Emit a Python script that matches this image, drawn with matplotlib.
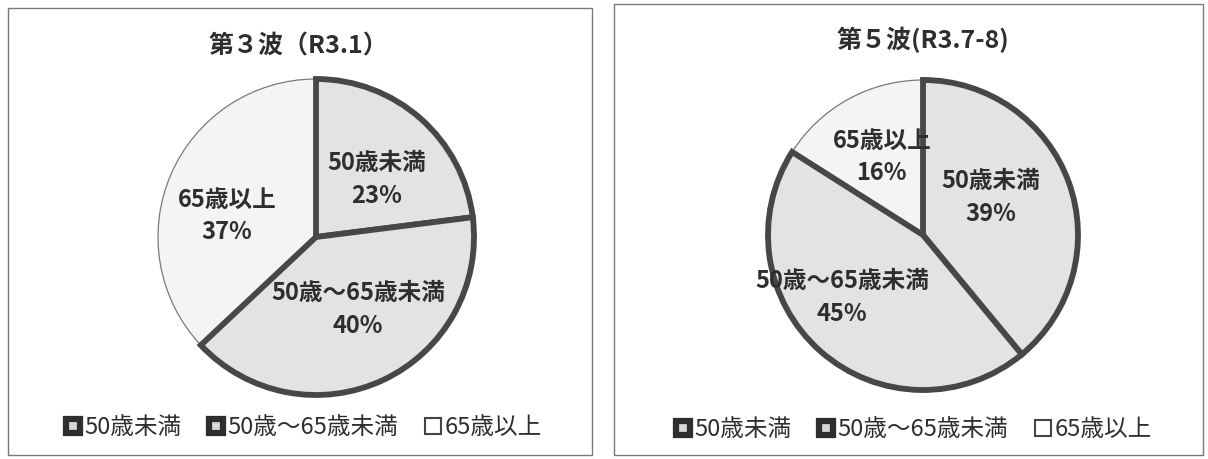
import matplotlib
matplotlib.use("Agg")
import matplotlib.pyplot as plt
import numpy as np
from matplotlib.lines import Line2D
from matplotlib.patches import Rectangle

plt.rcParams["font.family"] = ["Noto Sans CJK JP", "DejaVu Sans"]

# data
CATEGORIES = ["50歳未満", "50歳～65歳未満", "65歳以上"]
LEGEND_LABELS = ["50歳未満", "50歳～65歳未満", "65歳以上"]
WAVE3_TITLE = "第３波（R3.1）"
WAVE3_PCT = [23, 40, 37]
WAVE5_TITLE = "第５波(R3.7-8)"
WAVE5_PCT = [39, 45, 16]

W, H = 1208, 459
FILL = ["#e3e3e3", "#e3e3e3", "#f4f4f4"]
EDGE = ["#474747", "#474747", "#7a7a7a"]
EDGE_W = [4.2, 4.2, 0.9]
TXT = "#2e2e2e"


def px_box(x0, y0, x1, y1):
    # pixel box (top-left origin) -> figure fraction [l, b, w, h]
    return [x0 / W, 1 - y1 / H, (x1 - x0) / W, (y1 - y0) / H]


def draw_panel(fig, box, title, title_xy, pie_c, pie_r, pct, lab_pos, leg_xy):
    fig.patches.append(Rectangle((box[0], box[1]), box[2], box[3], transform=fig.transFigure,
                                 fill=False, edgecolor="#7a7a7a", lw=1.0))
    fig.text(title_xy[0] / W, 1 - title_xy[1] / H, title, ha="center", va="center",
             fontsize=18, fontweight="bold", color=TXT)

    cx, cy = pie_c
    ax = fig.add_axes(px_box(cx - pie_r, cy - pie_r, cx + pie_r, cy + pie_r))
    wedges, _ = ax.pie(pct, startangle=90, counterclock=False, colors=FILL)
    for i, w in enumerate(wedges):
        w.set_edgecolor(EDGE[i])
        w.set_linewidth(EDGE_W[i])
        w.set_joinstyle("miter")
        w.set_clip_on(False)
        w.set_zorder(3 if i < 2 else 2)
        dist, dang = lab_pos[i]
        mid = np.deg2rad((w.theta1 + w.theta2) / 2 + dang)
        ax.text(dist * np.cos(mid), dist * np.sin(mid), f"{CATEGORIES[i]}\n{pct[i]}%",
                ha="center", va="center", fontsize=17, fontweight="bold", color=TXT,
                linespacing=1.45, zorder=5)
    ax.set_xlim(-1, 1)
    ax.set_ylim(-1, 1)
    ax.set_aspect("auto")
    ax.axis("off")

    handles = [
        Line2D([], [], marker="s", ls="", ms=9.5, mfc="#d8d8d8", mec="#2e2e2e", mew=4.5),
        Line2D([], [], marker="s", ls="", ms=9.5, mfc="#d8d8d8", mec="#2e2e2e", mew=4.5),
        Line2D([], [], marker="s", ls="", ms=11, mfc="white", mec="#444444", mew=1.5),
    ]
    fig.legend(handles, LEGEND_LABELS, loc="center", ncol=3, frameon=False,
               bbox_to_anchor=(leg_xy[0] / W, 1 - leg_xy[1] / H),
               fontsize=17, handlelength=0.7, handletextpad=0.15, columnspacing=1.1,
               labelcolor=TXT)


fig = plt.figure(figsize=(W / 100, H / 100), dpi=100)
fig.patch.set_facecolor("white")

draw_panel(fig, px_box(8, 8, 592, 455), WAVE3_TITLE, (298, 46), (316, 237), 158, WAVE3_PCT,
           [(0.53, -5), (0.53, 5), (0.58, 10)], (303, 428))
draw_panel(fig, px_box(614, 4, 1203, 455), WAVE5_TITLE, (923, 40), (923, 235), 155, WAVE5_PCT,
           [(0.50, 9), (0.66, -11), (0.57, -1)], (913, 430))

fig.savefig("out.png", dpi=100, facecolor="white")
